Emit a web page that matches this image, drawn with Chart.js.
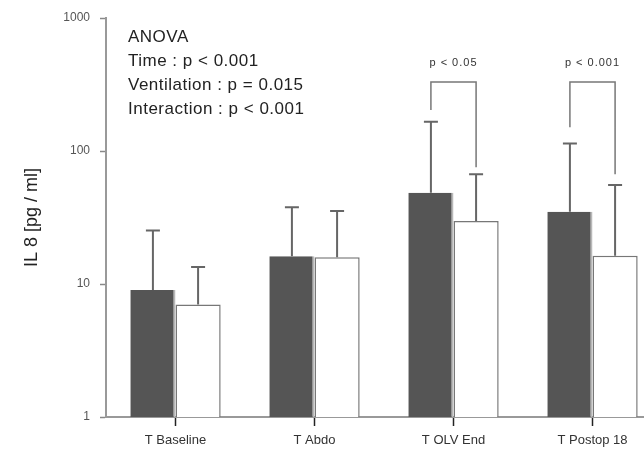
<!DOCTYPE html>
<html lang="en">
<head>
    <meta charset="UTF-8">
    <title>IL 8</title>
    <script src="https://cdn.jsdelivr.net/npm/chart.js"></script>
    <style>
        html, body {
            margin: 0;
            padding: 0;
            background: #fff;
            overflow: hidden;
        }
        #wrap {
            width: 670px;
            height: 449px;
        }
    </style>
</head>
<body>
    <div id="wrap">
        <canvas id="il8Chart" width="670" height="449"></canvas>
    </div>

    <script>
        // Data (log scale, pg/ml)
        const categories = ['T Baseline', 'T Abdo', 'T OLV End', 'T Postop 18'];
        const groupA = [9.0, 16.2, 48.6, 35.0];     // dark bars
        const groupB = [7.0, 15.9, 29.8, 16.3];     // white bars
        const groupAUpper = [25.2, 37.7, 166, 114]; // mean + SD
        const groupBUpper = [13.4, 35.4, 66.8, 55.5];
        const yTicks = [1, 10, 100, 1000];

        // Pairwise comparisons (bracket over a time point)
        const bracketIndex = [2, 3];
        const bracketLabels = ['p < 0.05', 'p < 0.001'];
        const bracketTop = [330, 330];
        const bracketLeftFrom = [203, 151];
        const bracketRightFrom = [75.6, 67];

        const anovaLines = ['ANOVA', 'Time : p < 0.001', 'Ventilation : p = 0.015', 'Interaction : p < 0.001'];

        const errorBars = {
            id: 'errorBars',
            afterDatasetsDraw(chart) {
                const ctx = chart.ctx;
                const y = chart.scales.y;
                const uppers = [groupAUpper, groupBUpper];
                ctx.save();
                ctx.strokeStyle = '#666';
                ctx.lineWidth = 2;
                uppers.forEach((arr, di) => {
                    chart.getDatasetMeta(di).data.forEach((bar, i) => {
                        const yTop = y.getPixelForValue(arr[i]);
                        ctx.beginPath();
                        ctx.moveTo(bar.x, bar.y);
                        ctx.lineTo(bar.x, yTop);
                        ctx.moveTo(bar.x - 7, yTop);
                        ctx.lineTo(bar.x + 7, yTop);
                        ctx.stroke();
                    });
                });
                ctx.restore();
            }
        };

        const brackets = {
            id: 'brackets',
            afterDatasetsDraw(chart) {
                const ctx = chart.ctx;
                const y = chart.scales.y;
                const metaA = chart.getDatasetMeta(0);
                const metaB = chart.getDatasetMeta(1);
                ctx.save();
                ctx.strokeStyle = '#777';
                ctx.lineWidth = 1.5;
                ctx.fillStyle = '#333';
                ctx.font = '11px Arial';
                ctx.letterSpacing = '1px';
                ctx.textAlign = 'center';
                ctx.textBaseline = 'middle';
                bracketIndex.forEach((idx, k) => {
                    const xl = metaA.data[idx].x;
                    const xr = metaB.data[idx].x;
                    const yt = y.getPixelForValue(bracketTop[k]);
                    ctx.beginPath();
                    ctx.moveTo(xl, y.getPixelForValue(bracketLeftFrom[k]));
                    ctx.lineTo(xl, yt);
                    ctx.lineTo(xr, yt);
                    ctx.lineTo(xr, y.getPixelForValue(bracketRightFrom[k]));
                    ctx.stroke();
                    ctx.fillText(bracketLabels[k], (xl + xr) / 2, yt - 19);
                });
                ctx.restore();
            }
        };

        const anovaText = {
            id: 'anovaText',
            afterDraw(chart) {
                const ctx = chart.ctx;
                const area = chart.chartArea;
                ctx.save();
                ctx.fillStyle = '#222';
                ctx.font = '17px Arial';
                ctx.letterSpacing = '0.5px';
                ctx.textAlign = 'left';
                ctx.textBaseline = 'middle';
                anovaLines.forEach((line, i) => {
                    ctx.fillText(line, area.left + 22, area.top + 19 + i * 24);
                });
                ctx.restore();
            }
        };

        new Chart(document.getElementById('il8Chart'), {
            type: 'bar',
            data: {
                labels: categories,
                datasets: [
                    {
                        label: 'Group A',
                        data: groupA,
                        backgroundColor: '#555555',
                        borderColor: '#b8b8b8',
                        borderWidth: { top: 0, left: 0, bottom: 0, right: 2 },
                        barPercentage: 1,
                        categoryPercentage: 0.65
                    },
                    {
                        label: 'Group B',
                        data: groupB,
                        backgroundColor: '#ffffff',
                        borderColor: '#777777',
                        borderWidth: 1.5,
                        borderSkipped: 'bottom',
                        barPercentage: 1,
                        categoryPercentage: 0.65
                    }
                ]
            },
            options: {
                responsive: false,
                animation: false,
                layout: {
                    padding: { left: 21, top: 18, right: 8, bottom: 0 }
                },
                plugins: {
                    legend: { display: false },
                    tooltip: { enabled: false }
                },
                scales: {
                    x: {
                        grid: {
                            display: true,
                            offset: false,
                            drawOnChartArea: false,
                            tickLength: 9,
                            tickColor: '#222',
                            tickWidth: 1.5
                        },
                        border: { color: '#999', width: 2 },
                        ticks: {
                            color: '#333',
                            font: { family: 'Arial', size: 13 },
                            padding: 7,
                            maxRotation: 0
                        },
                        afterFit: (scale) => { scale.height = 32; }
                    },
                    y: {
                        type: 'logarithmic',
                        min: 1,
                        max: 1000,
                        afterBuildTicks: (scale) => {
                            scale.ticks = yTicks.map(v => ({ value: v }));
                        },
                        grid: {
                            display: true,
                            drawOnChartArea: false,
                            tickLength: 6,
                            tickColor: '#888',
                            tickWidth: 1.5
                        },
                        border: { color: '#999', width: 2 },
                        ticks: {
                            color: '#555',
                            font: { family: 'Arial', size: 12 },
                            padding: 10,
                            callback: (v) => String(v)
                        },
                        title: {
                            display: true,
                            text: 'IL 8 [pg / ml]',
                            color: '#222',
                            font: { family: 'Arial', size: 18 },
                            padding: 0
                        },
                        afterFit: (scale) => { scale.width = 85; }
                    }
                }
            },
            plugins: [errorBars, brackets, anovaText]
        });
    </script>
</body>
</html>
